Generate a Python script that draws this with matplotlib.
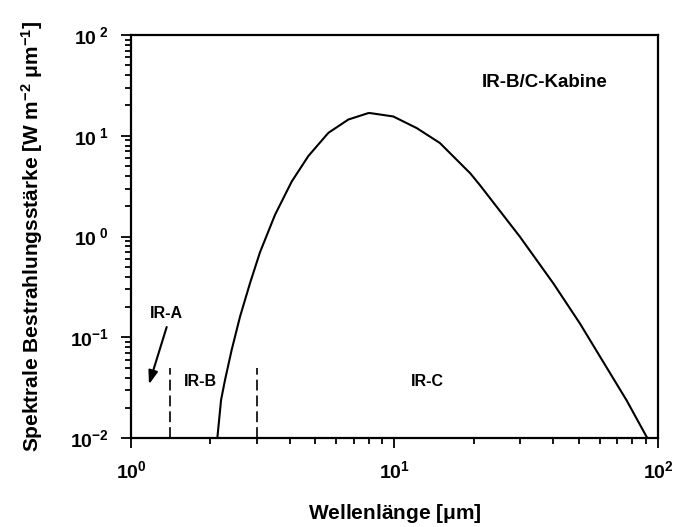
import numpy as np
import matplotlib
matplotlib.use('Agg')
import matplotlib.pyplot as plt
from matplotlib.ticker import FixedLocator, FixedFormatter, LogLocator, NullFormatter

plt.rcParams['font.family'] = ['Liberation Sans', 'DejaVu Sans']
plt.rcParams['font.weight'] = 'bold'
plt.rcParams['mathtext.fontset'] = 'custom'
plt.rcParams['mathtext.rm'] = 'Liberation Sans:bold'
plt.rcParams['mathtext.it'] = 'Liberation Sans:bold'
plt.rcParams['mathtext.bf'] = 'Liberation Sans:bold'

# spectrum (wavelength in um, irradiance in W m^-2 um^-1)
wavelength = [2.126, 2.197, 2.274, 2.41, 2.593, 2.829, 3.087, 3.52, 4.073, 4.71,
              5.61, 6.68, 7.95, 8.1, 9.89, 12.14, 14.88, 19.4, 21.1,
              29.9, 40.1, 50.6, 62.0, 76.0, 90.6]
irradiance = [0.0100, 0.0240, 0.0379, 0.0752, 0.161, 0.3455, 0.70, 1.646, 3.52, 6.3,
              10.7, 14.5, 16.8, 16.8, 15.56, 11.94, 8.47, 4.24, 3.24,
              1.0, 0.343, 0.137, 0.0571, 0.0238, 0.0103]

band_edges = [1.4, 3.0]
band_top = 0.05
band_labels = ['IR-B', 'IR-C']
band_label_x = [1.83, 13.3]
band_label_y = 0.0368

yticks = [1e-2, 1e-1, 1e0, 1e1, 1e2]
ytick_labels = [r'$10^{-2}$', r'$10^{-1}$', r'$10^{\ 0}$', r'$10^{\ 1}$', r'$10^{\ 2}$']
xticks = [1, 10, 100]
xtick_labels = [r'$10^{0}$', r'$10^{1}$', r'$10^{2}$']

fig = plt.figure(figsize=(6.88, 5.27), dpi=100)
ax = fig.add_axes([0.1904, 0.1683, 0.766, 0.7653])

ax.plot(wavelength, irradiance, color='black', lw=1.5)
for xe in band_edges:
    ax.plot([xe, xe], [1e-2, band_top], color='black', lw=1.2, linestyle=(0, (6.5, 3)))

ax.set_xscale('log')
ax.set_yscale('log')
ax.set_xlim(1, 100)
ax.set_ylim(1e-2, 1e2)

for lab, xl in zip(band_labels, band_label_x):
    ax.text(xl, band_label_y, lab, ha='center', va='center', fontsize=11.5, fontweight='bold')
ax.text(1.366, 0.174, 'IR-A', ha='center', va='center', fontsize=11.5, fontweight='bold')
ax.annotate('', xy=(1.17, 0.0343), xytext=(1.366, 0.127),
            arrowprops=dict(arrowstyle='-|>,head_length=0.8,head_width=0.28',
                            color='black', lw=1.5, shrinkA=0, shrinkB=0))
ax.text(37.2, 34.1, 'IR-B/C-Kabine', ha='center', va='center', fontsize=13.5, fontweight='bold')

ax.yaxis.set_major_locator(FixedLocator(yticks))
ax.yaxis.set_major_formatter(FixedFormatter(ytick_labels))
ax.xaxis.set_major_locator(FixedLocator(xticks))
ax.xaxis.set_major_formatter(FixedFormatter(xtick_labels))
ax.xaxis.set_minor_locator(LogLocator(base=10, subs=np.arange(2, 10)))
ax.yaxis.set_minor_locator(LogLocator(base=10, subs=np.arange(2, 10)))
ax.xaxis.set_minor_formatter(NullFormatter())
ax.yaxis.set_minor_formatter(NullFormatter())

ax.tick_params(which='both', direction='out', top=False, right=False, width=1.3,
               labelsize=14)
ax.tick_params(which='major', length=7)
ax.tick_params(which='minor', length=4)
ax.tick_params(axis='x', pad=9)
ax.tick_params(axis='y', pad=9)
for sp in ax.spines.values():
    sp.set_linewidth(1.6)

ax.set_xlabel(r'Wellenlänge [$\mu$m]', fontsize=15, fontweight='bold', labelpad=14)
ax.set_ylabel(r'Spektrale Bestrahlungsstärke [W m$^{-2}$ $\mu$m$^{-1}$]',
              fontsize=15, fontweight='bold', labelpad=18)

fig.savefig('out.png', dpi=100)
